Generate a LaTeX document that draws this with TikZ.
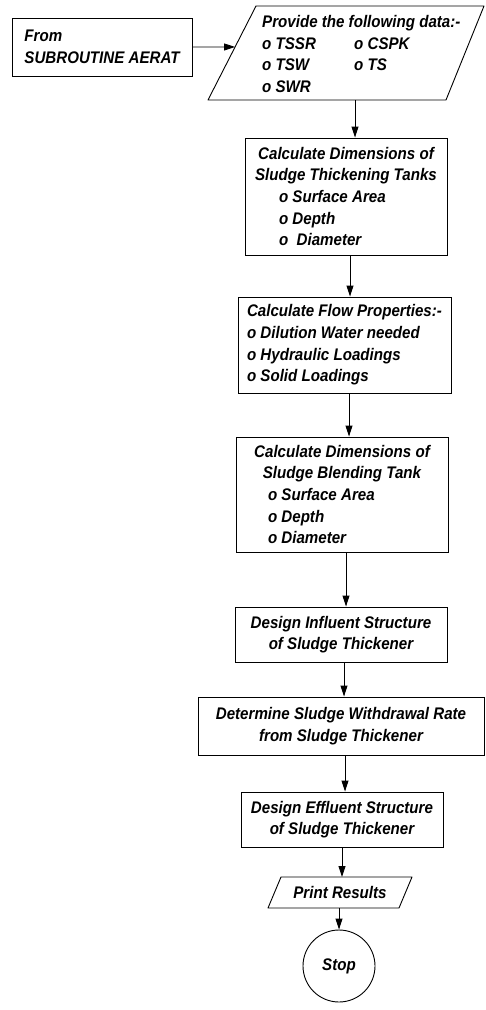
\documentclass[tikz,border=0pt]{standalone}
\usepackage{fontspec}
\newfontfamily\flowfont[FakeStretch=0.9]{Liberation Sans}
\usetikzlibrary{arrows.meta,calc}
\begin{document}
\begin{tikzpicture}[x=1pt,y=-1pt,
  every node/.style={font={\flowfont\bfseries\itshape\fontsize{16.8}{21.7}\selectfont}},
  procbox/.style={draw, line width=0.9pt, inner sep=0pt},
  arr/.style={-{Triangle[length=11pt,width=7pt]}, line width=0.9pt},
  shapeline/.style={draw, line width=0.9pt, line join=round}]
\useasboundingbox[fill=white] (0,0) rectangle (485,1010);

% start box
\node[procbox, minimum width=180pt, minimum height=58pt, align=left] (from) at (102,47)
  {From\\SUBROUTINE AERAT};

% input data parallelogram
\coordinate (dTL) at (256,6);
\coordinate (dTR) at (484,6);
\coordinate (dBR) at (446,100);
\coordinate (dBL) at (208,100);
\draw[shapeline] (dTL) -- (dTR) -- (dBR) -- (dBL) -- cycle;
\coordinate (pin) at ($(dTL)!0.436!(dBL)$);
\coordinate (dbot) at (355,100);
\node[anchor=north west, inner sep=0pt] (data) at (262,12)
  {\begin{tabular}{@{}p{92pt}@{}l@{}}
   \multicolumn{2}{@{}l@{}}{Provide the following data:-}\\
   o TSSR & o CSPK\\
   o TSW & o TS\\
   o SWR &
   \end{tabular}};

\node[procbox, minimum width=202pt, minimum height=117pt, align=center] (thick) at (346,196.5)
  {Calculate Dimensions of\\Sludge Thickening Tanks\\
   \makebox[134pt][l]{o Surface Area}\\
   \makebox[134pt][l]{o Depth}\\
   \makebox[134pt][l]{o~ Diameter}};

\node[procbox, minimum width=213pt, minimum height=96pt, align=left] (flow) at (344.5,345)
  {Calculate Flow Properties:-\\o Dilution Water needed\\o Hydraulic Loadings\\o Solid Loadings};

\node[procbox, minimum width=212pt, minimum height=115pt, align=center] (blend) at (342,494.5)
  {Calculate Dimensions of\\Sludge Blending Tank\\
   \makebox[148pt][l]{o Surface Area}\\
   \makebox[148pt][l]{o Depth}\\
   \makebox[148pt][l]{o Diameter}};

\node[procbox, minimum width=212pt, minimum height=55pt, align=center] (infl) at (341,634.5)
  {Design Influent Structure\\of Sludge Thickener};

\node[procbox, minimum width=286pt, minimum height=58pt, align=center] (withd) at (341,726)
  {Determine Sludge Withdrawal Rate\\from Sludge Thickener};

\node[procbox, minimum width=202pt, minimum height=55pt, align=center] (effl) at (342,819.5)
  {Design Effluent Structure\\of Sludge Thickener};

% print parallelogram
\coordinate (pTL) at (281,877);
\coordinate (pTR) at (412,877);
\coordinate (pBR) at (399,908);
\coordinate (pBL) at (268,908);
\draw[shapeline] (pTL) -- (pTR) -- (pBR) -- (pBL) -- cycle;
\coordinate (ptop) at (342,877);
\coordinate (pbot) at (339,908);
\node[inner sep=0pt] (print) at (340,892.5) {Print Results};

\node[draw, circle, line width=0.9pt, minimum size=72pt, inner sep=0pt] (stop) at (339,966) {Stop};

% connectors
\draw[arr] (from.east) -- (pin);
\draw[arr] (dbot) -- (dbot |- thick.north);
\draw[arr] ([xshift=4pt]thick.south) -- ([xshift=4pt]thick.south |- flow.north);
\draw[arr] ([xshift=4.5pt]flow.south) -- ([xshift=4.5pt]flow.south |- blend.north);
\draw[arr] ([xshift=4pt]blend.south) -- ([xshift=4pt]blend.south |- infl.north);
\draw[arr] ([xshift=3pt]infl.south) -- ([xshift=3pt]infl.south |- withd.north);
\draw[arr] ([xshift=4pt]withd.south) -- ([xshift=4pt]withd.south |- effl.north);
\draw[arr] (effl.south) -- (effl.south |- ptop);
\draw[arr] (pbot) -- (stop.north);
\end{tikzpicture}
\end{document}
